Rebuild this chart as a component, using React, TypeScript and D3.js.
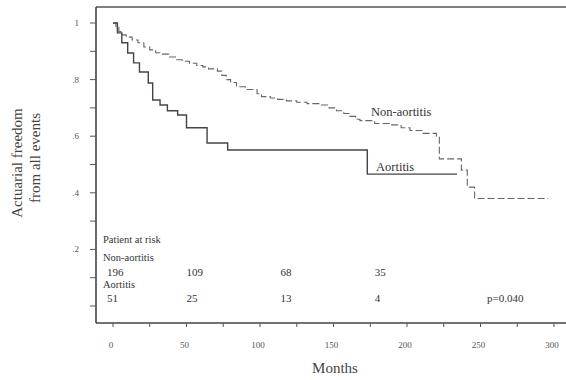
import React from "react";
import * as d3 from "d3";

const nonAortitisMonths = [0, 2, 4, 6, 9, 13, 17, 21, 25, 29, 33, 38, 43, 47, 52, 57, 61, 65, 71, 74, 77, 80, 84, 90, 98, 101, 107, 112, 118, 125, 132, 141, 147, 152, 157, 161, 165, 168, 178, 188, 196, 202, 211, 220, 222, 237, 241, 246, 296];
const nonAortitisSurv = [1.0, 0.985, 0.97, 0.958, 0.95, 0.94, 0.93, 0.915, 0.905, 0.895, 0.89, 0.88, 0.87, 0.865, 0.858, 0.85, 0.845, 0.838, 0.83, 0.815, 0.80, 0.79, 0.775, 0.765, 0.75, 0.74, 0.735, 0.73, 0.725, 0.72, 0.715, 0.71, 0.70, 0.69, 0.68, 0.67, 0.66, 0.655, 0.645, 0.64, 0.63, 0.62, 0.61, 0.60, 0.52, 0.48, 0.42, 0.38, 0.38];

const aortitisMonths = [0, 3, 6, 10, 14, 18, 24, 27, 32, 37, 44, 50, 64, 78, 173, 234];
const aortitisSurv = [1.0, 0.965, 0.93, 0.894, 0.859, 0.827, 0.788, 0.728, 0.71, 0.69, 0.675, 0.63, 0.576, 0.551, 0.466, 0.466];

const xTicks = [0, 25, 50, 75, 100, 125, 150, 175, 200, 225, 250, 275, 300];
const xTickLabels = [0, 50, 100, 150, 200, 250, 300];
const yTicks = [0, 0.1, 0.2, 0.3, 0.4, 0.5, 0.6, 0.7, 0.8, 0.9, 1.0];
const yTickLabels = [0.2, 0.4, 0.6, 0.8, 1.0];

const riskMonths = [-4, 50, 114, 178];
const riskNonAortitis = [196, 109, 68, 35];
const riskAortitis = [51, 25, 13, 4];

const FONT = "'Liberation Serif', 'DejaVu Serif', serif";

export default function App() {
  const W = 566, H = 380;
  const x = d3.scaleLinear().domain([0, 300]).range([113, 554]);
  const y = d3.scaleLinear().domain([0, 1]).range([306, 23]);
  const left = 96, top = 7, bottom = 323, right = 566;

  const line = d3
    .line<[number, number]>()
    .x((d) => x(d[0]))
    .y((d) => y(d[1]))
    .curve(d3.curveStepAfter);

  const nonData: [number, number][] = nonAortitisMonths.map((m, i) => [m, nonAortitisSurv[i]]);
  const aoData: [number, number][] = aortitisMonths.map((m, i) => [m, aortitisSurv[i]]);

  const fmtY = (v: number) => (v === 1 ? "1" : "." + Math.round(v * 10));

  return (
    <svg width={W} height={H} style={{ position: "absolute", left: 0, top: 0, background: "#fff" }}>
      <rect x={0} y={0} width={W} height={H} fill="#fff" />
      {/* frame */}
      <line x1={left} x2={right} y1={top} y2={top} stroke="#555" strokeWidth={1.4} />
      <line x1={left} x2={left} y1={top} y2={bottom} stroke="#444" strokeWidth={1.6} />
      <line x1={left} x2={right} y1={bottom} y2={bottom} stroke="#444" strokeWidth={1.6} />

      {/* y ticks */}
      {yTicks.map((t) => (
        <line key={"yt" + t} x1={left - 6} x2={left} y1={y(t)} y2={y(t)} stroke="#555" strokeWidth={1} />
      ))}
      {yTickLabels.map((t) => (
        <text key={"yl" + t} x={79} y={y(t) + 3} textAnchor="end" fontFamily={FONT} fontSize={9} fill="#555">
          {fmtY(t)}
        </text>
      ))}

      {/* x ticks */}
      {xTicks.map((t) => (
        <line key={"xt" + t} x1={x(t)} x2={x(t)} y1={bottom} y2={bottom + 4} stroke="#555" strokeWidth={1} />
      ))}
      {xTickLabels.map((t) => (
        <text key={"xl" + t} x={x(t) - 2} y={348} textAnchor="middle" fontFamily={FONT} fontSize={9} fill="#555">
          {t}
        </text>
      ))}

      {/* axis titles */}
      <text transform="translate(22,163) rotate(-90)" textAnchor="middle" fontFamily={FONT} fontSize={15} fill="#444">
        Actuarial freedom
      </text>
      <text transform="translate(40,158) rotate(-90)" textAnchor="middle" fontFamily={FONT} fontSize={15} fill="#444">
        from all events
      </text>
      <text x={335} y={373} textAnchor="middle" fontFamily={FONT} fontSize={15} fill="#444">
        Months
      </text>

      {/* curves */}
      <path d={line(nonData) || ""} fill="none" stroke="#666" strokeWidth={1.1} strokeDasharray="7,3" />
      <path d={line(aoData) || ""} fill="none" stroke="#444" strokeWidth={1.4} />

      {/* curve labels */}
      <text x={371} y={116} fontFamily={FONT} fontSize={12.5} fill="#333">Non-aortitis</text>
      <text x={376} y={171} fontFamily={FONT} fontSize={12.5} fill="#333">Aortitis</text>

      {/* risk table */}
      <text x={103} y={243} fontFamily={FONT} fontSize={10.5} fill="#333">Patient at risk</text>
      <text x={103} y={261} fontFamily={FONT} fontSize={10.5} fill="#333">Non-aortitis</text>
      {riskNonAortitis.map((v, i) => (
        <text key={"rn" + i} x={x(riskMonths[i])} y={276} fontFamily={FONT} fontSize={11} fill="#333">{v}</text>
      ))}
      <text x={103} y={288} fontFamily={FONT} fontSize={10.5} fill="#333">Aortitis</text>
      {riskAortitis.map((v, i) => (
        <text key={"ra" + i} x={x(riskMonths[i])} y={302} fontFamily={FONT} fontSize={11} fill="#333">{v}</text>
      ))}
      <text x={487} y={302} fontFamily={FONT} fontSize={11} fill="#333">p=0.040</text>
    </svg>
  );
}
